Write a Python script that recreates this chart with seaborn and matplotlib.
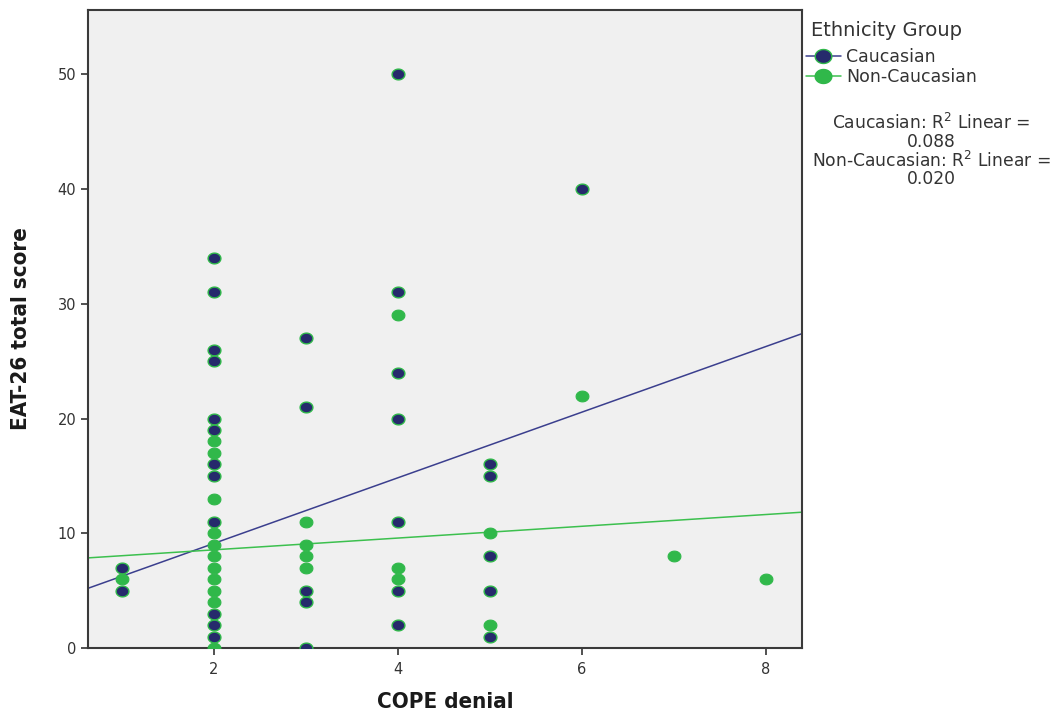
import numpy as np
import pandas as pd
import matplotlib
matplotlib.use("Agg")
import matplotlib.pyplot as plt
from matplotlib.lines import Line2D
from matplotlib.path import Path
import seaborn as sns

# COPE denial vs EAT-26 total score, by ethnicity group
cauc_x = [1, 1,
          2, 2, 2, 2, 2, 2, 2, 2, 2, 2, 2, 2,
          3, 3, 3, 3, 3,
          4, 4, 4, 4, 4, 4, 4,
          5, 5, 5, 5, 5,
          6]
cauc_y = [7, 5,
          34, 31, 26, 25, 20, 19, 16, 15, 11, 3, 2, 1,
          27, 21, 5, 4, 0,
          50, 31, 24, 20, 11, 5, 2,
          16, 15, 8, 5, 1,
          40]
non_x = [1,
         2, 2, 2, 2, 2, 2, 2, 2, 2, 2, 2,
         3, 3, 3, 3,
         4, 4, 4,
         5, 5,
         6, 7, 8]
non_y = [6,
         18, 17, 13, 10, 9, 8, 7, 6, 5, 4, 0,
         11, 9, 8, 7,
         29, 7, 6,
         10, 2,
         22, 8, 6]

groups = ["Caucasian", "Non-Caucasian"]
fit_intercept = [3.40, 7.53]
fit_slope = [2.86, 0.513]
r2_linear = ["0.088", "0.020"]

x_ticks = [2, 4, 6, 8]
y_ticks = [0, 10, 20, 30, 40, 50]

navy = "#262a6c"
green = "#30b84a"
line_navy = "#3b3f8e"
line_green = "#3cc04e"

# slightly wide oval marker
_t = np.linspace(0, 2 * np.pi, 41)
oval = Path(np.column_stack([np.cos(_t), 0.84 * np.sin(_t)]), closed=True)

sns.set_theme(style="white")
plt.rcParams["font.family"] = ["DejaVu Sans"]

df = pd.DataFrame({
    "COPE denial": cauc_x + non_x,
    "EAT-26 total score": cauc_y + non_y,
    "group": [groups[0]] * len(cauc_x) + [groups[1]] * len(non_x),
})

fig = plt.figure(figsize=(10.62, 7.12), dpi=100)
ax = fig.add_axes([88 / 1062, 1 - 648 / 712, (802 - 88) / 1062, (648 - 10) / 712])
ax.set_facecolor("#f0f0f0")

# fit lines
for b, m, c in zip(fit_intercept, fit_slope, [line_navy, line_green]):
    ax.axline((0, b), slope=m, color=c, lw=1.1, zorder=2)

sns.scatterplot(data=df[df["group"] == groups[1]], x="COPE denial", y="EAT-26 total score",
                color=green, edgecolor=green, linewidth=0.8, s=85, marker=oval,
                ax=ax, zorder=3, legend=False)
sns.scatterplot(data=df[df["group"] == groups[0]], x="COPE denial", y="EAT-26 total score",
                color=navy, edgecolor=green, linewidth=1.0, s=85, marker=oval,
                ax=ax, zorder=4, legend=False)

ax.set_xlim(0.63, 8.39)
ax.set_ylim(0, 55.6)
ax.set_xticks(x_ticks)
ax.set_yticks(y_ticks)
ax.tick_params(axis="both", which="both", direction="out", length=5, width=1.2,
               color="#333333", labelcolor="#333333", labelsize=10.5, bottom=True, left=True)
ax.tick_params(axis="x", pad=5)
for sp in ax.spines.values():
    sp.set_color("#3a3a3a")
    sp.set_linewidth(1.5)

label_font = dict(family="DejaVu Sans", stretch="condensed", weight="bold", size=16, color="#1a1a1a")
ax.set_xlabel("COPE denial", fontdict=label_font, labelpad=11)
ax.set_ylabel("EAT-26 total score", fontdict=label_font, labelpad=19)

# legend
fig.text(811 / 1062, 1 - 30 / 712, "Ethnicity Group", ha="left", va="center",
         fontsize=14, color="#333333")
handles = [
    Line2D([0], [0], color=line_navy, lw=1.1, marker=oval, markersize=12,
           markerfacecolor=navy, markeredgecolor=green, markeredgewidth=1.0),
    Line2D([0], [0], color=line_green, lw=1.1, marker=oval, markersize=12,
           markerfacecolor=green, markeredgecolor=green),
]
leg = fig.legend(handles, groups, loc="center left",
                 bbox_to_anchor=(806 / 1062, 1 - 67 / 712), frameon=False,
                 fontsize=12.5, handlelength=2.0, handletextpad=0.3,
                 labelspacing=0.1, borderpad=0.0, borderaxespad=0)
for t in leg.get_texts():
    t.set_color("#333333")

r2_text = (f"{groups[0]}: R$^2$ Linear =\n{r2_linear[0]}\n"
           f"{groups[1]}: R$^2$ Linear =\n{r2_linear[1]}")
fig.text(931 / 1062, 1 - 113 / 712, r2_text, ha="center", va="top", fontsize=12.3,
         color="#333333", linespacing=0.98)

fig.savefig("out.png", dpi=100, facecolor="white")
